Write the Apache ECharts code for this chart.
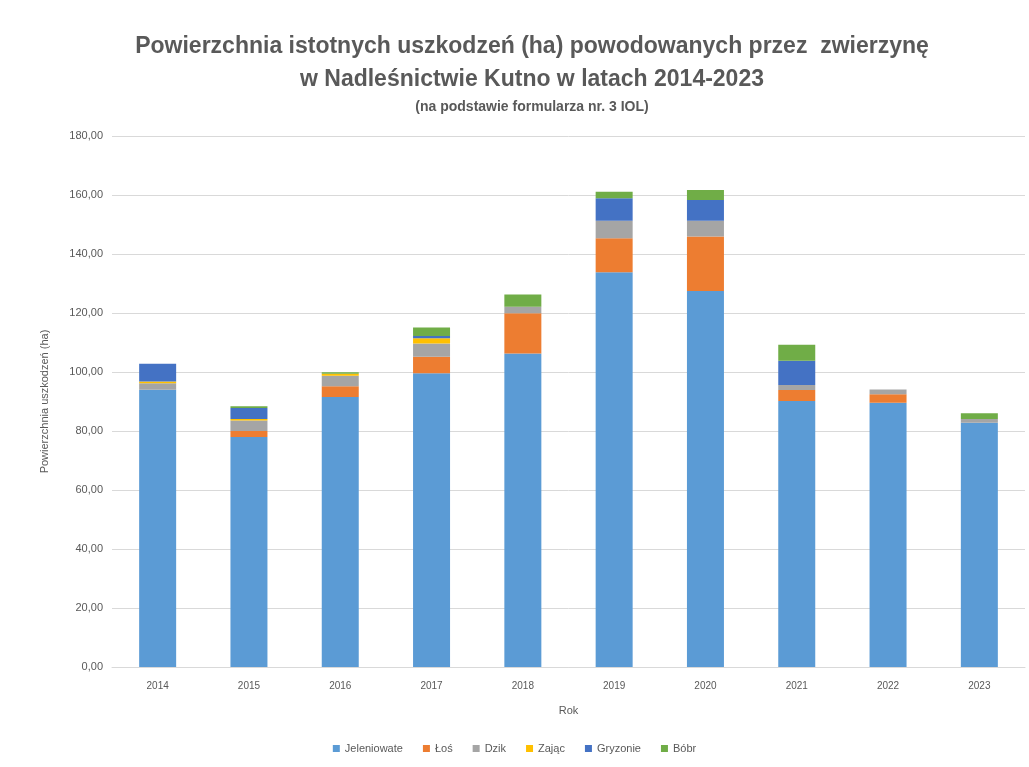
<!DOCTYPE html>
<html>
<head>
<meta charset="utf-8">
<script src="https://cdn.jsdelivr.net/npm/echarts@6/dist/echarts.min.js"></script>
<style>
  html, body { margin: 0; padding: 0; background: #fff; }
  #chart { width: 1029px; height: 767px; }
</style>
</head>
<body>
<div id="chart"></div>
<script>
// Years on the category axis
const years = ['2014', '2015', '2016', '2017', '2018', '2019', '2020', '2021', '2022', '2023'];

// Damaged area (ha) by animal group, stacked per year
const jeleniowate = [94.0, 78.0, 91.5, 99.6, 106.3, 133.8, 127.5, 90.2, 89.6, 82.8];
const los         = [0,    2.0,  3.7,  5.6,  13.6,  11.5,  18.4,  3.7,  2.9,  0];
const dzik        = [2.2,  3.6,  3.5,  4.5,  2.2,   6.0,   5.4,   1.7,  1.6,  1.3];
const zajac       = [0.6,  0.5,  0.7,  1.7,  0,     0,     0,     0,    0,    0];
const gryzonie    = [6.0,  3.7,  0,    0.8,  0,     7.6,   7.0,   8.2,  0,    0];
const bobr        = [0,    0.6,  0.5,  2.9,  4.2,   2.2,   3.4,   5.4,  0,    1.9];

// Y-axis ticks
const yTicks = [0, 20, 40, 60, 80, 100, 120, 140, 160, 180];

const seriesDefs = [
  { name: 'Jeleniowate', data: jeleniowate, color: '#5B9BD5' },
  { name: 'Łoś',         data: los,         color: '#ED7D31' },
  { name: 'Dzik',        data: dzik,        color: '#A5A5A5' },
  { name: 'Zając',       data: zajac,       color: '#FFC000' },
  { name: 'Gryzonie',    data: gryzonie,    color: '#4472C4' },
  { name: 'Bóbr',        data: bobr,        color: '#70AD47' }
];

const chart = echarts.init(document.getElementById('chart'), null, { renderer: 'canvas' });
const font = 'Liberation Sans';

chart.setOption({
  backgroundColor: '#ffffff',
  animation: false,
  title: [
    {
      text: 'Powierzchnia istotnych uszkodzeń (ha) powodowanych przez  zwierzynę\nw Nadleśnictwie Kutno w latach 2014-2023',
      left: 527, top: 25, textAlign: 'center',
      textStyle: { fontFamily: font, fontSize: 23, fontWeight: 'bold', color: '#595959', lineHeight: 33, align: 'center' }
    },
    {
      text: '(na podstawie formularza nr. 3 IOL)',
      left: 527, top: 95, textAlign: 'center',
      textStyle: { fontFamily: font, fontSize: 14, fontWeight: 'bold', color: '#595959' }
    }
  ],
  legend: {
    bottom: 8, left: 'center',
    itemWidth: 7, itemHeight: 7, itemGap: 20,
    icon: 'rect',
    textStyle: { fontFamily: font, fontSize: 11, color: '#595959' },
    data: seriesDefs.map(s => s.name)
  },
  grid: { left: 112, right: 4, top: 136, bottom: 100 },
  xAxis: {
    type: 'category',
    data: years,
    name: 'Rok',
    nameLocation: 'middle',
    nameGap: 38,
    nameTextStyle: { fontFamily: font, fontSize: 11, color: '#595959' },
    axisLine: { lineStyle: { color: '#d9d9d9' } },
    axisTick: { show: false },
    axisLabel: { fontFamily: font, fontSize: 10, color: '#595959', margin: 14 }
  },
  yAxis: {
    type: 'value',
    min: yTicks[0], max: yTicks[yTicks.length - 1], interval: 20,
    name: 'Powierzchnia uszkodzeń (ha)',
    nameLocation: 'middle',
    nameGap: 62,
    nameTextStyle: { fontFamily: font, fontSize: 11, color: '#595959' },
    axisLine: { show: false },
    axisTick: { show: false },
    splitLine: { lineStyle: { color: '#d9d9d9' } },
    axisLabel: {
      fontFamily: font, fontSize: 11, color: '#595959', margin: 9,
      formatter: v => v.toFixed(2).replace('.', ',')
    }
  },
  series: seriesDefs.map(s => ({
    name: s.name,
    type: 'bar',
    stack: 'total',
    barWidth: 37,
    itemStyle: { color: s.color },
    data: s.data
  }))
});
</script>
</body>
</html>
